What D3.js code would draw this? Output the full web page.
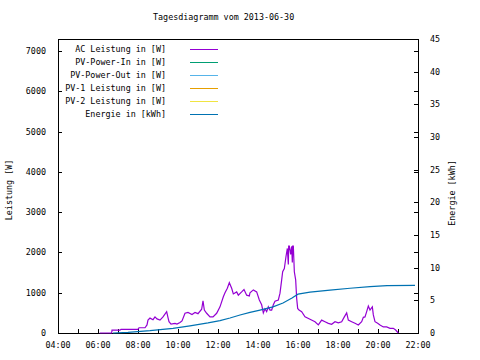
<!DOCTYPE html>
<html><head><meta charset="utf-8">
<script src="https://cdn.jsdelivr.net/npm/d3@7"></script>
<style>
body{margin:0;background:#fff;}
text{font-family:"DejaVu Sans Mono",monospace;font-size:8.4px;fill:#000;}
</style></head><body>
<svg id="c" width="480" height="360"></svg>
<script>
const title = "Tagesdiagramm vom 2013-06-30";
const xTickLabels = ["04:00","06:00","08:00","10:00","12:00","14:00","16:00","18:00","20:00","22:00"];
const yTicks = [0,1000,2000,3000,4000,5000,6000,7000];
const y2Ticks = [0,5,10,15,20,25,30,35,40,45];
const seriesNames = ["AC Leistung in [W]","PV-Power-In in [W]","PV-Power-Out in [W]","PV-1 Leistung in [W]","PV-2 Leistung in [W]","Energie in [kWh]"];
const seriesColors = ["#9400d3","#009e73","#56b4e9","#e69f00","#f0e442","#0072b2"];

const acTimes = ["06:05","06:41","06:42","07:06","07:09","08:00","08:03","08:21","08:27","08:30","08:36","08:45","08:51","08:57","09:06","09:15","09:26","09:30","09:33","09:39","09:51","09:57","10:06","10:12","10:21","10:30","10:42","10:51","11:00","11:11","11:15","11:19","11:26","11:36","11:45","11:56","12:06","12:16","12:21","12:28","12:34","12:41","12:46","12:56","13:01","13:11","13:18","13:26","13:34","13:36","13:46","13:56","14:04","14:11","14:16","14:21","14:26","14:31","14:36","14:41","14:46","14:51","15:01","15:06","15:11","15:14","15:19","15:24","15:28","15:31","15:32","15:34","15:38","15:41","15:43","15:44","15:46","15:49","15:53","15:56","15:59","16:03","16:11","16:21","16:36","16:51","17:01","17:11","17:21","17:31","17:41","17:51","18:01","18:11","18:19","18:26","18:31","18:41","18:51","19:01","19:11","19:16","19:21","19:26","19:31","19:36","19:43","19:46","19:51","19:59","20:06","20:16","20:26","20:36","20:46","20:53","21:01"];
const acValues = [0,0,70,70,90,90,130,130,200,320,370,330,400,350,320,400,530,380,280,220,240,220,260,300,490,510,460,510,480,590,800,570,490,400,400,490,650,900,1000,1110,1250,1110,970,1020,940,1020,1080,940,920,1000,1070,1020,820,700,500,600,530,650,570,570,700,790,820,990,1320,1520,1600,1900,2100,1700,2160,2160,1950,2150,1750,2160,2160,1520,1320,860,610,570,530,400,340,280,200,320,280,240,215,280,250,280,400,500,320,280,240,200,280,390,400,530,670,570,650,450,280,240,200,150,150,115,115,75,0];
const pvInValues = [];
const pvOutValues = [];
const pv1Values = [];
const pv2Values = [];
const energyTimes = ["06:45","07:30","08:36","09:45","10:36","11:30","12:06","12:36","13:06","13:36","14:06","14:45","15:15","15:42","16:00","16:36","17:36","18:36","19:36","20:27","21:51"];
const energyValues = [0,0.1,0.35,0.7,1.1,1.55,1.9,2.3,2.75,3.15,3.5,4.0,4.6,5.35,5.95,6.25,6.55,6.85,7.1,7.25,7.28];

const parse = d3.timeParse("%H:%M");
const svg = d3.select("#c");
const L=58, R=418, T=39, B=333;
const x = d3.scaleTime().domain([parse("04:00"), parse("22:00")]).range([L,R]);
const y = d3.scaleLinear().domain([0,7300]).range([B,T]);
const y2 = d3.scaleLinear().domain([0,45]).range([B,T]);

svg.append("text").attr("x",153).attr("y",20).text(title);

// ticks
const g = svg.append("g").attr("stroke","#000").attr("stroke-width",1).attr("shape-rendering","crispEdges");
yTicks.forEach(v=>{
  if(v>0){
    g.append("line").attr("x1",L).attr("x2",L+4).attr("y1",Math.round(y(v))+0.5).attr("y2",Math.round(y(v))+0.5);
    g.append("line").attr("x1",R-4).attr("x2",R).attr("y1",Math.round(y(v))+0.5).attr("y2",Math.round(y(v))+0.5);
  }
  svg.append("text").attr("x",46).attr("y",y(v)+3).attr("text-anchor","end").text(v);
});
y2Ticks.forEach(v=>{
  if(v>0 && v<45) g.append("line").attr("x1",R-4).attr("x2",R).attr("y1",Math.round(y2(v))+0.5).attr("y2",Math.round(y2(v))+0.5);
  svg.append("text").attr("x",430).attr("y",y2(v)+3).text(v);
});
const hours = d3.range(5,22).map(h=>parse(String(h).padStart(2,"0")+":00"));
hours.forEach(h=>{
  g.append("line").attr("x1",Math.round(x(h))+0.5).attr("x2",Math.round(x(h))+0.5).attr("y1",B).attr("y2",B-4);
});
xTickLabels.forEach(s=>{
  svg.append("text").attr("x",x(parse(s))).attr("y",348).attr("text-anchor","middle").text(s);
});

// border
svg.append("rect").attr("x",L+0.5).attr("y",T+0.5).attr("width",R-L).attr("height",B-T)
  .attr("fill","none").attr("stroke","#000").attr("shape-rendering","crispEdges");

// axis labels
svg.append("text").attr("transform","translate(12,190) rotate(-90)").attr("text-anchor","middle").text("Leistung [W]");
svg.append("text").attr("transform","translate(455,193) rotate(-90)").attr("text-anchor","middle").text("Energie [kWh]");

// legend
seriesNames.forEach((n,i)=>{
  const yy = 49 + 13*i;
  svg.append("text").attr("x",166).attr("y",yy+3).attr("text-anchor","end").text(n);
  svg.append("line").attr("x1",190).attr("x2",218).attr("y1",yy+0.5).attr("y2",yy+0.5)
    .attr("stroke",seriesColors[i]).attr("stroke-width",1).attr("shape-rendering","crispEdges");
});

// series
const line = d3.line().x(d=>x(d[0])).y(d=>y(d[1]));
const line2 = d3.line().x(d=>x(d[0])).y(d=>y2(d[1]));
const ac = acTimes.map((t,i)=>[parse(t),acValues[i]]);
const en = energyTimes.map((t,i)=>[parse(t),energyValues[i]]);
svg.append("path").datum(ac).attr("d",line).attr("fill","none").attr("stroke",seriesColors[0]).attr("stroke-width",1.2);
[pvInValues,pvOutValues,pv1Values,pv2Values].forEach((arr,k)=>{
  if(arr.length) svg.append("path").datum(arr.map((v,i)=>[parse(acTimes[i]),v])).attr("d",line).attr("fill","none").attr("stroke",seriesColors[k+1]);
});
svg.append("path").datum(en).attr("d",line2).attr("fill","none").attr("stroke",seriesColors[5]).attr("stroke-width",1.2);
</script></body></html>
